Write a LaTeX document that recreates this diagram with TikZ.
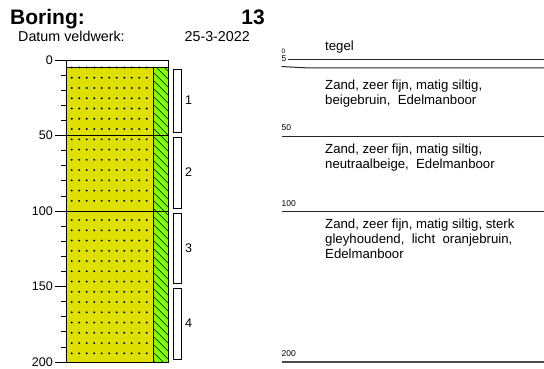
\documentclass[tikz,border=0pt]{standalone}
\usepackage{fontspec}
\setmainfont{Liberation Sans}
\usetikzlibrary{positioning}
\definecolor{sandyellow}{RGB}{224,224,0}
\definecolor{gleygreen}{RGB}{128,255,0}
\tikzset{
layerline/.style = {draw=black, line width=0.8pt},
sample/.style = {draw, fill=white, line width=0.7pt},
samplelbl/.style = {anchor=west, inner sep=0pt, font=\fontsize{12.5}{14}\selectfont},
desc/.style = {anchor=base west, inner sep=0pt, font=\fontsize{13.2}{15}\selectfont, align=left},
depthlbl/.style = {anchor=east, inner sep=0pt, font=\fontsize{12.5}{14}\selectfont},
smalllbl/.style = {anchor=base west, inner sep=0pt, font=\fontsize{8.5}{9}\selectfont},
rightline/.style = {draw=black!85, line width=1pt}
}

\begin{document}
\begin{tikzpicture}[x=1pt,y=-1pt]
    \useasboundingbox (0,0) rectangle (544,369);
    % header
    \node [anchor=base west, inner sep=0pt, font=\bfseries\fontsize{21}{24}\selectfont] (title) at (10,25) {Boring:};
    \node [anchor=base east, inner sep=0pt, font=\bfseries\fontsize{21}{24}\selectfont] (nr) at (265,25) {13};
    \node [anchor=base west, inner sep=0pt, font=\fontsize{14.3}{16}\selectfont] (datum) at (18,42) {Datum veldwerk:};
    \node [anchor=base east, inner sep=0pt, font=\fontsize{14.3}{16}\selectfont] (date) at (250,42) {25-3-2022};
    % column fill
    \fill [sandyellow] (66,67.5) rectangle (153,362);
    \fill [gleygreen] (153,67.5) rectangle (168,362);
    \begin{scope}
        \clip (153,67.5) rectangle (168,362);
        \foreach \y in {40,48,...,368}
            \draw [line width=0.65pt] (153,\y) -- (168,{\y+15});
    \end{scope}
    % dots per layer
    \foreach \top/\n in {67.5/6, 139.3/6, 220/13}
        \foreach \r in {0,...,\n}
            \foreach \c in {0,...,10}
                \fill ({71.7+7.5*\c},{\top+10.25*\r}) circle (1.05);
    % column outline and layer boundaries
    \draw [layerline] (66,60) rectangle (168,362);
    \draw [layerline] (66,67.5) -- (168,67.5);
    \draw [layerline] (66,135.5) -- (168,135.5);
    \draw [layerline] (66,211) -- (168,211);
    \draw [layerline] (153,67.5) -- (153,362);
    % depth axis
    \foreach \d in {10,20,30,40,60,70,80,90,110,120,130,140,160,170,180,190}
        \draw [line width=0.7pt] (61,{60+1.51*\d}) -- (66,{60+1.51*\d});
    \foreach \d in {0,50,100,150,200}
        \draw [line width=0.7pt] (55,{60+1.51*\d}) -- (66,{60+1.51*\d});
    \node [depthlbl] (d0) at (53,60) {0};
    \node [depthlbl] (d50) at (53,135.5) {50};
    \node [depthlbl] (d100) at (53,211) {100};
    \node [depthlbl] (d150) at (53,286.5) {150};
    \node [depthlbl] (d200) at (53,362) {200};
    % samples
    \foreach \i/\a/\b in {1/69/132, 2/137/208, 3/213/283, 4/288/359} {
        \draw [sample] (173,\a) rectangle (181,\b);
        \node [samplelbl] (s\i) at (185,{(\a+\b)/2}) {\i};
    }
    % description side
    \node [smalllbl, font=\fontsize{6.5}{7}\selectfont] (r0) at (281.5,53.5) {0};
    \node [smalllbl] (r5) at (281.5,61.5) {5};
    \draw [rightline] (287.5,59.5) -- (544,59.5);
    \draw [rightline] (281.5,66.5) .. controls (300,67.5) and (305,68) .. (317,68) -- (544,68);
    \node [smalllbl] (r50) at (281.5,130) {50};
    \draw [rightline] (281.5,136) -- (544,136);
    \node [smalllbl] (r100) at (281.5,206.5) {100};
    \draw [rightline] (281.5,211) -- (544,211);
    \node [smalllbl] (r200) at (281.5,356) {200};
    \draw [rightline, line width=1.8pt, draw=black!70] (281.5,362) -- (544,362);
    \node [desc] (tegel) at (325,50.5) {tegel};
    \node [desc] (l1) at (325,104.5) {Zand, zeer fijn, matig siltig,\\beigebruin,\ \ Edelmanboor};
    \node [desc] (l2) at (325,168.5) {Zand, zeer fijn, matig siltig,\\neutraalbeige,\ \ Edelmanboor};
    \node [desc] (l3) at (325,258) {Zand, zeer fijn, matig siltig, sterk\\gleyhoudend,\ \ licht\ \ oranjebruin,\\Edelmanboor};
\end{tikzpicture}
\end{document}
